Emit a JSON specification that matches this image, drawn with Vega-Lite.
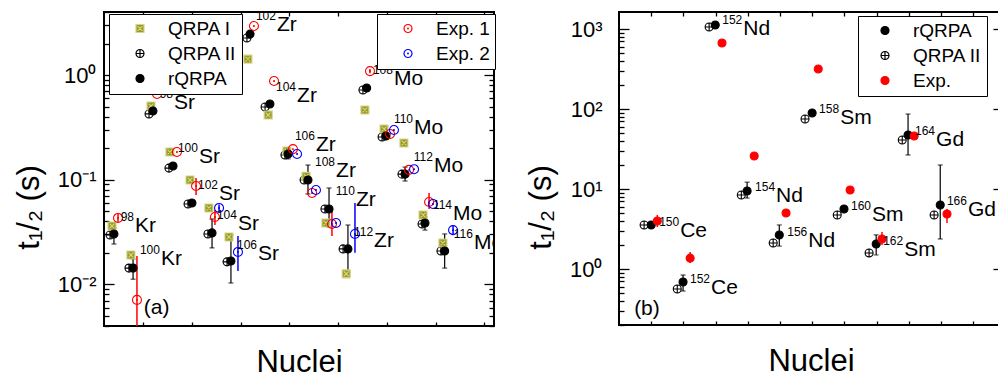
{
"$schema": "https://vega.github.io/schema/vega-lite/v6.json",
"padding": {"left": 12, "top": 10, "right": 0, "bottom": 0},
"config": {
 "font": "Liberation Sans",
 "view": {"stroke": "black", "strokeWidth": 2},
 "axis": {"domain": false, "grid": false, "tickColor": "black", "tickWidth": 1.3, "labelColor": "black", "titleColor": "black", "labelFontSize": 22, "titleFontSize": 31, "titleFontWeight": "normal", "labelFont": "Liberation Sans", "titleFont": "Liberation Sans", "labelOverlap": false, "labelFlush": false},
 "legend": {"orient": "none", "padding": 5, "rowPadding": 5, "symbolSize": 64, "symbolStrokeWidth": 1.2, "labelFontSize": 19, "labelFont": "Liberation Sans", "labelColor": "black", "strokeColor": "black", "fillColor": "white"}
},
"datasets": {
 "L": [
  {"s":"QRPA II","x":0.81,"t":0.0296},{"s":"QRPA I","x":0.91,"t":0.0361},{"s":"rQRPA","x":1.01,"t":0.0303,"lo":0.0243,"hi":0.0345},{"s":"Exp. 1","x":1.22,"t":0.0431,"lo":0.0394,"hi":0.047},
  {"s":"QRPA II","x":1.78,"t":0.0143},{"s":"QRPA I","x":1.88,"t":0.0191},{"s":"rQRPA","x":1.99,"t":0.0143,"lo":0.0112,"hi":0.0175},{"s":"Exp. 1","x":2.19,"t":0.0071,"lo":0.003,"hi":0.0187},
  {"s":"QRPA II","x":2.81,"t":0.425},{"s":"QRPA I","x":2.91,"t":0.506},{"s":"rQRPA","x":3.01,"t":0.453},{"s":"Exp. 1","x":3.22,"t":0.659},
  {"s":"QRPA II","x":3.83,"t":0.129},{"s":"QRPA I","x":3.88,"t":0.184},{"s":"rQRPA","x":4.04,"t":0.135},{"s":"Exp. 1","x":4.24,"t":0.184},
  {"s":"QRPA II","x":4.81,"t":0.0586},{"s":"QRPA I","x":4.91,"t":0.0993},{"s":"rQRPA","x":5.01,"t":0.0599},{"s":"Exp. 1","x":5.22,"t":0.0871,"lo":0.0714,"hi":0.104},
  {"s":"QRPA II","x":5.83,"t":0.0303},{"s":"QRPA I","x":5.88,"t":0.0537},{"s":"rQRPA","x":6.04,"t":0.031,"lo":0.0223,"hi":0.0421},{"s":"Exp. 1","x":6.19,"t":0.044,"lo":0.0369,"hi":0.0513},{"s":"Exp. 2","x":6.4,"t":0.0537,"lo":0.049,"hi":0.058},
  {"s":"QRPA II","x":6.81,"t":0.0164},{"s":"QRPA I","x":6.91,"t":0.0283},{"s":"rQRPA","x":7.01,"t":0.0167,"lo":0.0103,"hi":0.0296},{"s":"Exp. 2","x":7.37,"t":0.0204,"lo":0.0134,"hi":0.029},
  {"s":"QRPA II","x":7.83,"t":2.26},{"s":"QRPA I","x":7.88,"t":1.42},{"s":"rQRPA","x":7.99,"t":2.46},{"s":"Exp. 1","x":8.19,"t":2.94},
  {"s":"QRPA II","x":8.76,"t":0.494},{"s":"QRPA I","x":8.92,"t":0.415},{"s":"rQRPA","x":9.01,"t":0.528},{"s":"Exp. 1","x":9.22,"t":0.877},
  {"s":"QRPA II","x":9.78,"t":0.172},{"s":"QRPA I","x":9.88,"t":0.188},{"s":"rQRPA","x":9.94,"t":0.176,"lo":0.158,"hi":0.196},{"s":"Exp. 1","x":10.19,"t":0.196},{"s":"Exp. 2","x":10.4,"t":0.176},
  {"s":"QRPA II","x":10.76,"t":0.0993},{"s":"QRPA I","x":10.86,"t":0.108},{"s":"rQRPA","x":10.96,"t":0.0993,"lo":0.073,"hi":0.138},{"s":"Exp. 1","x":11.17,"t":0.0746},{"s":"Exp. 2","x":11.37,"t":0.0797},
  {"s":"QRPA II","x":11.83,"t":0.0525},{"s":"QRPA I","x":11.88,"t":0.0386},{"s":"rQRPA","x":12.04,"t":0.0525,"lo":0.0353,"hi":0.0833},{"s":"Exp. 1","x":12.19,"t":0.0377,"lo":0.029,"hi":0.0549},{"s":"Exp. 2","x":12.4,"t":0.0386},
  {"s":"QRPA II","x":12.76,"t":0.0218},{"s":"QRPA I","x":12.92,"t":0.0126},{"s":"rQRPA","x":13.01,"t":0.0218,"lo":0.0131,"hi":0.0369},{"s":"Exp. 2","x":13.37,"t":0.0303,"lo":0.02,"hi":0.0599},
  {"s":"QRPA II","x":13.78,"t":0.719},{"s":"QRPA I","x":13.88,"t":0.463},{"s":"rQRPA","x":13.97,"t":0.752},{"s":"Exp. 1","x":14.14,"t":1.09,"lo":1.04,"hi":1.14},
  {"s":"QRPA II","x":14.76,"t":0.256},{"s":"QRPA I","x":14.86,"t":0.305},{"s":"rQRPA","x":14.96,"t":0.261},{"s":"Exp. 1","x":15.17,"t":0.273},{"s":"Exp. 2","x":15.37,"t":0.298},
  {"s":"QRPA II","x":15.78,"t":0.113},{"s":"QRPA I","x":15.88,"t":0.224},{"s":"rQRPA","x":15.94,"t":0.113,"lo":0.0971,"hi":0.132},{"s":"Exp. 1","x":16.14,"t":0.124},{"s":"Exp. 2","x":16.4,"t":0.126},
  {"s":"QRPA II","x":16.81,"t":0.0377},{"s":"QRPA I","x":16.86,"t":0.046},{"s":"rQRPA","x":16.96,"t":0.0386,"lo":0.033,"hi":0.044},{"s":"Exp. 1","x":17.17,"t":0.0612,"lo":0.0525,"hi":0.0746},{"s":"Exp. 2","x":17.37,"t":0.0586},
  {"s":"QRPA II","x":17.78,"t":0.0208},{"s":"QRPA I","x":17.88,"t":0.0248},{"s":"rQRPA","x":17.97,"t":0.0208,"lo":0.0143,"hi":0.0303},{"s":"Exp. 2","x":18.4,"t":0.033,"lo":0.0296,"hi":0.0369}
 ],
 "LL": [
  {"m":"98","e":"Kr","x":2.09,"t":0.0316},{"m":"100","e":"Kr","x":3.42,"t":0.0153},
  {"m":"98","e":"Sr","x":4.09,"t":0.473},{"m":"100","e":"Sr","x":5.37,"t":0.144},{"m":"102","e":"Sr","x":6.4,"t":0.064},{"m":"104","e":"Sr","x":7.37,"t":0.033},{"m":"106","e":"Sr","x":8.4,"t":0.0171},
  {"m":"102","e":"Zr","x":9.37,"t":2.63},{"m":"104","e":"Zr","x":10.4,"t":0.552},{"m":"106","e":"Zr","x":11.37,"t":0.188},{"m":"108","e":"Zr","x":12.4,"t":0.106},{"m":"110","e":"Zr","x":13.42,"t":0.0561},{"m":"112","e":"Zr","x":14.35,"t":0.0228},
  {"m":"108","e":"Mo","x":15.37,"t":0.803},{"m":"110","e":"Mo","x":16.4,"t":0.273},{"m":"112","e":"Mo","x":17.42,"t":0.118},{"m":"114","e":"Mo","x":18.4,"t":0.0412},{"m":"116","e":"Mo","x":19.47,"t":0.0218}
 ],
 "R": [
  {"s":"QRPA II","x":0.78,"t":3.56},{"s":"rQRPA","x":1.0,"t":3.56},{"s":"Exp.","x":1.19,"t":3.99,"lo":3.36,"hi":4.74},
  {"s":"QRPA II","x":1.81,"t":0.564},{"s":"rQRPA","x":1.99,"t":0.69,"lo":0.532,"hi":0.843},{"s":"Exp.","x":2.21,"t":1.37,"lo":1.19,"hi":1.63},
  {"s":"QRPA II","x":2.8,"t":1061},{"s":"rQRPA","x":2.99,"t":1125},{"s":"Exp.","x":3.2,"t":670},
  {"s":"QRPA II","x":3.8,"t":8.43},{"s":"rQRPA","x":3.98,"t":9.46,"lo":7.73,"hi":12.2},{"s":"Exp.","x":4.2,"t":25.9},
  {"s":"QRPA II","x":4.79,"t":2.12},{"s":"rQRPA","x":4.98,"t":2.67,"lo":1.94,"hi":3.56},{"s":"Exp.","x":5.19,"t":5.02},
  {"s":"QRPA II","x":5.78,"t":75.2},{"s":"rQRPA","x":6.0,"t":89.3},{"s":"Exp.","x":6.19,"t":317},
  {"s":"QRPA II","x":6.78,"t":4.74},{"s":"rQRPA","x":6.99,"t":5.63},{"s":"Exp.","x":7.18,"t":9.73},
  {"s":"QRPA II","x":7.77,"t":1.59},{"s":"rQRPA","x":7.99,"t":2.06,"lo":1.5,"hi":2.67},{"s":"Exp.","x":8.17,"t":2.38,"lo":2.0,"hi":2.9},
  {"s":"QRPA II","x":8.8,"t":41.0},{"s":"rQRPA","x":8.98,"t":47.4,"lo":26.7,"hi":86.7},{"s":"Exp.","x":9.17,"t":46.0},
  {"s":"QRPA II","x":9.79,"t":4.74},{"s":"rQRPA","x":9.98,"t":6.32,"lo":2.38,"hi":20.0},{"s":"Exp.","x":10.19,"t":4.88,"lo":3.77,"hi":5.63}
 ],
 "RL": [
  {"m":"150","e":"Ce","x":1.9,"t":2.52},{"m":"152","e":"Ce","x":2.86,"t":0.489},{"m":"152","e":"Nd","x":3.86,"t":843},{"m":"154","e":"Nd","x":4.88,"t":6.89},{"m":"156","e":"Nd","x":5.88,"t":1.89},
  {"m":"158","e":"Sm","x":6.87,"t":65.0},{"m":"160","e":"Sm","x":7.86,"t":3.99},{"m":"162","e":"Sm","x":8.86,"t":1.46},{"m":"164","e":"Gd","x":9.85,"t":34.5},{"m":"166","e":"Gd","x":10.84,"t":4.6}
 ]
},
"spacing": 27,
"resolve": {"scale": {"shape": "independent", "fill": "independent", "stroke": "independent"}, "legend": {"shape": "independent", "fill": "independent", "stroke": "independent"}},
"hconcat": [
 {
  "width": 390, "height": 314,
  "layer": [
   {"data": {"name": "L"}, "transform": [{"filter": "datum.s=='rQRPA' && isValid(datum.lo)"}],
    "mark": {"type": "rule", "color": "black", "strokeWidth": 1.2, "clip": true},
    "encoding": {
     "x": {"field": "x", "type": "quantitative", "scale": {"domain": [0.5, 20.5], "nice": false, "zero": false},
           "axis": {"orient": "bottom", "values": [2.5, 5, 7.5, 10, 12.5, 15, 17.5, 20], "labels": false, "tickSize": -4, "title": "Nuclei", "titlePadding": 21}},
     "y": {"field": "lo", "type": "quantitative", "scale": {"type": "log", "domain": [0.004, 4], "nice": false},
           "axis": {"orient": "left", "values": [0.004,0.005,0.006,0.007,0.008,0.009,0.01,0.02,0.03,0.04,0.05,0.06,0.07,0.08,0.09,0.1,0.2,0.3,0.4,0.5,0.6,0.7,0.8,0.9,1,2,3,4],
                    "labelExpr": "datum.value==1?'10⁰':datum.value==0.1?'10⁻¹':datum.value==0.01?'10⁻²':''",
                    "labelFontSize": {"condition": {"test": "datum.value==1||datum.value==0.1||datum.value==0.01", "value": 22}, "value": 0},
                    "tickSize": {"condition": {"test": "datum.value==1||datum.value==0.1||datum.value==0.01", "value": -10}, "value": -5},
                    "labelPadding": 18, "title": "t₁/₂ (s)", "titleY": 195, "titlePadding": 12}},
     "y2": {"field": "hi"}}},
   {"data": {"name": "L"}, "transform": [{"filter": "datum.s=='rQRPA' && isValid(datum.lo)"}],
    "mark": {"type": "tick", "orient": "horizontal", "size": 5, "thickness": 1.2, "color": "black"},
    "encoding": {
     "x": {"field": "x", "type": "quantitative", "scale": {"domain": [0.5, 20.5], "nice": false, "zero": false}, "axis": null},
     "y": {"field": "lo", "type": "quantitative", "scale": {"type": "log", "domain": [0.004, 4], "nice": false}, "axis": null}}},
   {"data": {"name": "L"}, "transform": [{"filter": "datum.s=='rQRPA' && isValid(datum.lo)"}],
    "mark": {"type": "tick", "orient": "horizontal", "size": 5, "thickness": 1.2, "color": "black"},
    "encoding": {
     "x": {"field": "x", "type": "quantitative", "scale": {"domain": [0.5, 20.5], "nice": false, "zero": false}, "axis": null},
     "y": {"field": "hi", "type": "quantitative", "scale": {"type": "log", "domain": [0.004, 4], "nice": false}, "axis": null}}},
   {"data": {"name": "L"}, "transform": [{"filter": "datum.s=='Exp. 1' && isValid(datum.lo)"}],
    "mark": {"type": "rule", "color": "red", "strokeWidth": 1.5, "clip": true},
    "encoding": {
     "x": {"field": "x", "type": "quantitative", "scale": {"domain": [0.5, 20.5], "nice": false, "zero": false}, "axis": null},
     "y": {"field": "lo", "type": "quantitative", "scale": {"type": "log", "domain": [0.004, 4], "nice": false}, "axis": null},
     "y2": {"field": "hi"}}},
   {"data": {"name": "L"}, "transform": [{"filter": "datum.s=='Exp. 2' && isValid(datum.lo)"}],
    "mark": {"type": "rule", "color": "blue", "strokeWidth": 1.5, "clip": true},
    "encoding": {
     "x": {"field": "x", "type": "quantitative", "scale": {"domain": [0.5, 20.5], "nice": false, "zero": false}, "axis": null},
     "y": {"field": "lo", "type": "quantitative", "scale": {"type": "log", "domain": [0.004, 4], "nice": false}, "axis": null},
     "y2": {"field": "hi"}}},
   {"data": {"name": "L"}, "transform": [{"filter": "datum.s=='QRPA I' || datum.s=='QRPA II' || datum.s=='rQRPA'"}],
    "mark": {"type": "point", "size": 64, "strokeWidth": 1.1, "opacity": 1},
    "encoding": {
     "x": {"field": "x", "type": "quantitative", "scale": {"domain": [0.5, 20.5], "nice": false, "zero": false},
           "axis": {"orient": "top", "values": [2.5, 5, 7.5, 10, 12.5, 15, 17.5, 20], "labels": false, "tickSize": -4, "title": null}},
     "y": {"field": "t", "type": "quantitative", "scale": {"type": "log", "domain": [0.004, 4], "nice": false},
           "axis": {"orient": "right", "values": [0.004,0.005,0.006,0.007,0.008,0.009,0.01,0.02,0.03,0.04,0.05,0.06,0.07,0.08,0.09,0.1,0.2,0.3,0.4,0.5,0.6,0.7,0.8,0.9,1,2,3,4],
                    "labels": false, "title": null,
                    "tickSize": {"condition": {"test": "datum.value==1||datum.value==0.1||datum.value==0.01", "value": -10}, "value": -5}}},
     "shape": {"field": "s", "type": "nominal", "scale": {"domain": ["QRPA I", "QRPA II", "rQRPA"], "range": ["M-1,-1H1V1H-1ZM-0.6,-0.6L0.6,0.6M0.6,-0.6L-0.6,0.6", "M-1,0A1,1,0,1,1,1,0A1,1,0,1,1,-1,0ZM-1,0H1M0,-1V1", "circle"]},
               "legend": {"title": null, "legendX": 5, "legendY": 2, "symbolOffset": 16.5, "labelOffset": 18.5}},
     "fill": {"field": "s", "type": "nominal", "scale": {"domain": ["QRPA I", "QRPA II", "rQRPA"], "range": ["#9a9a22", "transparent", "black"]},
               "legend": {"title": null, "legendX": 5, "legendY": 2, "symbolOffset": 16.5, "labelOffset": 18.5}},
     "stroke": {"field": "s", "type": "nominal", "scale": {"domain": ["QRPA I", "QRPA II", "rQRPA"], "range": ["#d6d68c", "black", "black"]},
               "legend": {"title": null, "legendX": 5, "legendY": 2, "symbolOffset": 16.5, "labelOffset": 18.5}}}},
   {"data": {"name": "L"}, "transform": [{"filter": "datum.s=='Exp. 1' || datum.s=='Exp. 2'"}],
    "mark": {"type": "point", "size": 81, "strokeWidth": 1.1, "opacity": 1},
    "encoding": {
     "x": {"field": "x", "type": "quantitative", "scale": {"domain": [0.5, 20.5], "nice": false, "zero": false}, "axis": null},
     "y": {"field": "t", "type": "quantitative", "scale": {"type": "log", "domain": [0.004, 4], "nice": false}, "axis": null},
     "shape": {"field": "s", "type": "nominal", "scale": {"domain": ["Exp. 1", "Exp. 2"], "range": ["M-1,0A1,1,0,1,1,1,0A1,1,0,1,1,-1,0ZM-0.1,0A0.1,0.1,0,1,1,0.1,0A0.1,0.1,0,1,1,-0.1,0Z", "M-1,0A1,1,0,1,1,1,0A1,1,0,1,1,-1,0ZM-0.1,0A0.1,0.1,0,1,1,0.1,0A0.1,0.1,0,1,1,-0.1,0Z"]},
               "legend": {"title": null, "legendX": 273, "legendY": 2, "symbolOffset": 16.5, "labelOffset": 18.5}},
     "fill": {"field": "s", "type": "nominal", "scale": {"domain": ["Exp. 1", "Exp. 2"], "range": ["transparent", "transparent"]},
               "legend": {"title": null, "legendX": 273, "legendY": 2, "symbolOffset": 16.5, "labelOffset": 18.5}},
     "stroke": {"field": "s", "type": "nominal", "scale": {"domain": ["Exp. 1", "Exp. 2"], "range": ["red", "blue"]},
               "legend": {"title": null, "legendX": 273, "legendY": 2, "symbolOffset": 16.5, "labelOffset": 18.5}}}},
   {"data": {"name": "LL"},
    "mark": {"type": "text", "align": "left", "baseline": "alphabetic", "fontSize": 21, "font": "Liberation Sans", "color": "black", "clip": true},
    "encoding": {
     "x": {"field": "x", "type": "quantitative", "scale": {"domain": [0.5, 20.5], "nice": false, "zero": false}, "axis": null},
     "y": {"field": "t", "type": "quantitative", "scale": {"type": "log", "domain": [0.004, 4], "nice": false}, "axis": null},
     "text": {"field": "e"}}},
   {"data": {"name": "LL"},
    "mark": {"type": "text", "align": "right", "baseline": "alphabetic", "fontSize": 12, "font": "Liberation Sans", "color": "black", "dx": -1, "dy": -11, "clip": true},
    "encoding": {
     "x": {"field": "x", "type": "quantitative", "scale": {"domain": [0.5, 20.5], "nice": false, "zero": false}, "axis": null},
     "y": {"field": "t", "type": "quantitative", "scale": {"type": "log", "domain": [0.004, 4], "nice": false}, "axis": null},
     "text": {"field": "m"}}},
   {"data": {"values": [{"x": 2.54, "t": 0.0052, "txt": "(a)"}]},
    "mark": {"type": "text", "align": "left", "baseline": "alphabetic", "fontSize": 21, "font": "Liberation Sans", "color": "black"},
    "encoding": {
     "x": {"field": "x", "type": "quantitative", "scale": {"domain": [0.5, 20.5], "nice": false, "zero": false}, "axis": null},
     "y": {"field": "t", "type": "quantitative", "scale": {"type": "log", "domain": [0.004, 4], "nice": false}, "axis": null},
     "text": {"field": "txt"}}}
  ],
  "resolve": {"axis": {"x": "independent", "y": "independent"}, "scale": {"shape": "independent", "fill": "independent", "stroke": "independent"}, "legend": {"shape": "independent", "fill": "independent", "stroke": "independent"}}
 },
 {
  "width": 384, "height": 313,
  "layer": [
   {"data": {"name": "R"}, "transform": [{"filter": "datum.s=='rQRPA' && isValid(datum.lo)"}],
    "mark": {"type": "rule", "color": "black", "strokeWidth": 1.2, "clip": true},
    "encoding": {
     "x": {"field": "x", "type": "quantitative", "scale": {"domain": [0, 11.93], "nice": false, "zero": false},
           "axis": {"orient": "bottom", "values": [1,2,3,4,5,6,7,8,9,10,11], "labels": false, "tickSize": -4, "title": "Nuclei", "titlePadding": 21}},
     "y": {"field": "lo", "type": "quantitative", "scale": {"type": "log", "domain": [0.2, 1635], "nice": false},
           "axis": {"orient": "left", "values": [0.2,0.3,0.4,0.5,0.6,0.7,0.8,0.9,1,2,3,4,5,6,7,8,9,10,20,30,40,50,60,70,80,90,100,200,300,400,500,600,700,800,900,1000],
                    "labelExpr": "datum.value==1?'10⁰':datum.value==10?'10¹':datum.value==100?'10²':datum.value==1000?'10³':''",
                    "labelFontSize": {"condition": {"test": "datum.value==1||datum.value==10||datum.value==100||datum.value==1000", "value": 22}, "value": 0},
                    "tickSize": {"condition": {"test": "datum.value==1||datum.value==10||datum.value==100||datum.value==1000", "value": -10}, "value": -5},
                    "labelPadding": 27, "title": "t₁/₂ (s)", "titleY": 195, "titlePadding": 12}},
     "y2": {"field": "hi"}}},
   {"data": {"name": "R"}, "transform": [{"filter": "datum.s=='rQRPA' && isValid(datum.lo)"}],
    "mark": {"type": "tick", "orient": "horizontal", "size": 5, "thickness": 1.2, "color": "black"},
    "encoding": {
     "x": {"field": "x", "type": "quantitative", "scale": {"domain": [0, 11.93], "nice": false, "zero": false}, "axis": null},
     "y": {"field": "lo", "type": "quantitative", "scale": {"type": "log", "domain": [0.2, 1635], "nice": false}, "axis": null}}},
   {"data": {"name": "R"}, "transform": [{"filter": "datum.s=='rQRPA' && isValid(datum.lo)"}],
    "mark": {"type": "tick", "orient": "horizontal", "size": 5, "thickness": 1.2, "color": "black"},
    "encoding": {
     "x": {"field": "x", "type": "quantitative", "scale": {"domain": [0, 11.93], "nice": false, "zero": false}, "axis": null},
     "y": {"field": "hi", "type": "quantitative", "scale": {"type": "log", "domain": [0.2, 1635], "nice": false}, "axis": null}}},
   {"data": {"name": "R"}, "transform": [{"filter": "datum.s=='Exp.' && isValid(datum.lo)"}],
    "mark": {"type": "rule", "color": "red", "strokeWidth": 1.5, "clip": true},
    "encoding": {
     "x": {"field": "x", "type": "quantitative", "scale": {"domain": [0, 11.93], "nice": false, "zero": false}, "axis": null},
     "y": {"field": "lo", "type": "quantitative", "scale": {"type": "log", "domain": [0.2, 1635], "nice": false}, "axis": null},
     "y2": {"field": "hi"}}},
   {"data": {"name": "R"},
    "mark": {"type": "point", "size": 64, "strokeWidth": 1.1, "opacity": 1},
    "encoding": {
     "x": {"field": "x", "type": "quantitative", "scale": {"domain": [0, 11.93], "nice": false, "zero": false},
           "axis": {"orient": "top", "values": [1,2,3,4,5,6,7,8,9,10,11], "labels": false, "tickSize": -4, "title": null}},
     "y": {"field": "t", "type": "quantitative", "scale": {"type": "log", "domain": [0.2, 1635], "nice": false},
           "axis": {"orient": "right", "values": [0.2,0.3,0.4,0.5,0.6,0.7,0.8,0.9,1,2,3,4,5,6,7,8,9,10,20,30,40,50,60,70,80,90,100,200,300,400,500,600,700,800,900,1000],
                    "labels": false, "title": null,
                    "tickSize": {"condition": {"test": "datum.value==1||datum.value==10||datum.value==100||datum.value==1000", "value": -10}, "value": -5}}},
     "shape": {"field": "s", "type": "nominal", "scale": {"domain": ["rQRPA", "QRPA II", "Exp."], "range": ["circle", "M-1,0A1,1,0,1,1,1,0A1,1,0,1,1,-1,0ZM-1,0H1M0,-1V1", "circle"]},
               "legend": {"title": null, "legendX": 239, "legendY": 4, "symbolOffset": 12.5, "labelOffset": 18.5}},
     "fill": {"field": "s", "type": "nominal", "scale": {"domain": ["rQRPA", "QRPA II", "Exp."], "range": ["black", "transparent", "red"]},
               "legend": {"title": null, "legendX": 239, "legendY": 4, "symbolOffset": 12.5, "labelOffset": 18.5}},
     "stroke": {"field": "s", "type": "nominal", "scale": {"domain": ["rQRPA", "QRPA II", "Exp."], "range": ["black", "black", "red"]},
               "legend": {"title": null, "legendX": 239, "legendY": 4, "symbolOffset": 12.5, "labelOffset": 18.5}}}},
   {"data": {"name": "RL"},
    "mark": {"type": "text", "align": "left", "baseline": "alphabetic", "fontSize": 21, "font": "Liberation Sans", "color": "black", "clip": true},
    "encoding": {
     "x": {"field": "x", "type": "quantitative", "scale": {"domain": [0, 11.93], "nice": false, "zero": false}, "axis": null},
     "y": {"field": "t", "type": "quantitative", "scale": {"type": "log", "domain": [0.2, 1635], "nice": false}, "axis": null},
     "text": {"field": "e"}}},
   {"data": {"name": "RL"},
    "mark": {"type": "text", "align": "right", "baseline": "alphabetic", "fontSize": 12, "font": "Liberation Sans", "color": "black", "dx": -1, "dy": -11, "clip": true},
    "encoding": {
     "x": {"field": "x", "type": "quantitative", "scale": {"domain": [0, 11.93], "nice": false, "zero": false}, "axis": null},
     "y": {"field": "t", "type": "quantitative", "scale": {"type": "log", "domain": [0.2, 1635], "nice": false}, "axis": null},
     "text": {"field": "m"}}},
   {"data": {"values": [{"x": 0.47, "t": 0.267, "txt": "(b)"}]},
    "mark": {"type": "text", "align": "left", "baseline": "alphabetic", "fontSize": 21, "font": "Liberation Sans", "color": "black"},
    "encoding": {
     "x": {"field": "x", "type": "quantitative", "scale": {"domain": [0, 11.93], "nice": false, "zero": false}, "axis": null},
     "y": {"field": "t", "type": "quantitative", "scale": {"type": "log", "domain": [0.2, 1635], "nice": false}, "axis": null},
     "text": {"field": "txt"}}}
  ],
  "resolve": {"axis": {"x": "independent", "y": "independent"}}
 }
]
}
